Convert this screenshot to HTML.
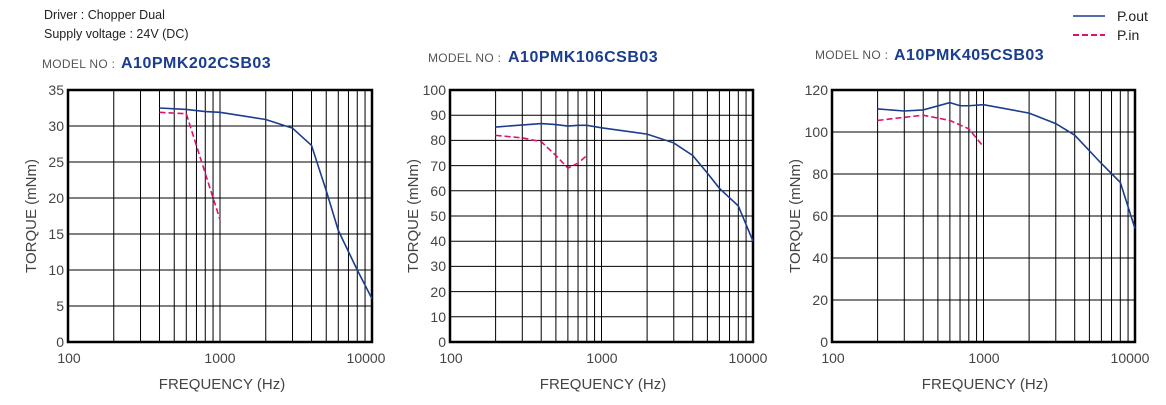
<!DOCTYPE html>
<html><head><meta charset="utf-8"><style>
html,body{margin:0;padding:0;background:#fff;width:1166px;height:405px;overflow:hidden}
svg{position:absolute;left:0;top:0}
text{font-family:"Liberation Sans",sans-serif}
.t{fill:#222;font-size:12.5px}
.mn{fill:#555;font-size:12px;letter-spacing:0.3px}
.md{fill:#1a3d8f;font-size:16px;font-weight:bold;letter-spacing:0.5px}
.tk{fill:#444;font-size:14px}
.ax{fill:#444;font-size:15px}
</style></head><body>
<svg id="s" width="1166" height="405" xmlns="http://www.w3.org/2000/svg">
<text class="t" x="44" y="19">Driver : Chopper Dual</text>
<text class="t" x="44" y="38">Supply voltage : 24V (DC)</text>
<text class="mn" x="42" y="68">MODEL NO :</text><text class="md" x="121" y="68">A10PMK202CSB03</text>
<text class="mn" x="428" y="62">MODEL NO :</text><text class="md" x="508" y="62">A10PMK106CSB03</text>
<text class="mn" x="815" y="59">MODEL NO :</text><text class="md" x="894" y="60">A10PMK405CSB03</text>
<line x1="1073" y1="16" x2="1105" y2="16" stroke="#1a3d8f" stroke-width="1.5"/>
<line x1="1073" y1="35" x2="1105" y2="35" stroke="#e0106e" stroke-width="2" stroke-dasharray="6,3"/>
<text x="1117" y="21" style="font-size:14px;fill:#222">P.out</text>
<text x="1117" y="40" style="font-size:14px;fill:#222">P.in</text>
<g class="tk" text-anchor="middle">
<text x="69" y="363">100</text><text x="220" y="363">1000</text><text x="366" y="363">10000</text>
<text x="451" y="363">100</text><text x="602" y="363">1000</text><text x="748" y="363">10000</text>
<text x="833" y="363">100</text><text x="984" y="363">1000</text><text x="1130" y="363">10000</text>
</g>
<g class="ax" text-anchor="middle">
<text x="222" y="389">FREQUENCY (Hz)</text>
<text x="603" y="389">FREQUENCY (Hz)</text>
<text x="985" y="389">FREQUENCY (Hz)</text>
<text transform="translate(36,216) rotate(-90)">TORQUE (mNm)</text>
<text transform="translate(418,216) rotate(-90)">TORQUE (mNm)</text>
<text transform="translate(800,216) rotate(-90)">TORQUE (mNm)</text>
</g>
<g class="tk" text-anchor="end" id="yl">
<text x="64" y="95">35</text><text x="64" y="131">30</text><text x="64" y="167">25</text><text x="64" y="203">20</text><text x="64" y="239">15</text><text x="64" y="275">10</text><text x="64" y="311">5</text><text x="64" y="347">0</text>
<text x="446" y="95">100</text><text x="446" y="120">90</text><text x="446" y="145">80</text><text x="446" y="171">70</text><text x="446" y="196">60</text><text x="446" y="221">50</text><text x="446" y="246">40</text><text x="446" y="271">30</text><text x="446" y="297">20</text><text x="446" y="322">10</text><text x="446" y="347">0</text>
<text x="828" y="95">120</text><text x="828" y="137">100</text><text x="828" y="179">80</text><text x="828" y="221">60</text><text x="828" y="263">40</text><text x="828" y="305">20</text><text x="828" y="347">0</text>
</g>
</svg>
<script>
var s=document.getElementById('s'),NS='http://www.w3.org/2000/svg';
function el(n,a){var e=document.createElementNS(NS,n);for(var k in a)e.setAttribute(k,a[k]);s.appendChild(e);return e;}
var T=90,B=342;
var P=[
{L:68,R:372,max:35,step:5,
 b:[[400,32.5],[600,32.3],[800,32],[1000,31.9],[2000,30.9],[3000,29.7],[4000,27.3],[5000,21],[6000,15.5],[8000,10],[10000,6]],
 p:[[400,31.9],[600,31.7],[1000,17]]},
{L:450,R:753,max:100,step:10,
 b:[[200,85.3],[400,86.7],[500,86.3],[600,85.7],[700,86],[800,86],[1000,85],[2000,82.5],[3000,79],[4000,74],[5000,67],[6000,61],[8000,54],[10000,40]],
 p:[[200,82],[300,81],[400,79.5],[500,74],[600,69],[700,71],[800,74]]},
{L:832,R:1135,max:120,step:20,
 b:[[200,111],[300,110],[400,110.5],[600,114],[700,112.5],[800,112.5],[1000,113],[2000,109],[3000,104],[4000,98.5],[6000,85],[8000,76],[10000,54]],
 p:[[200,105.5],[300,107],[400,108],[600,105.5],[800,101.5],[1000,93]]}];
P.forEach(function(c){
 var W=(c.R-c.L)/2;
 function X(f){return c.L+Math.log10(f/100)*W;}
 function Y(v){return B-(v/c.max)*(B-T);}
 for(var d=100;d<=1000;d*=10)for(var m=2;m<=9;m++)el('line',{x1:X(d*m),x2:X(d*m),y1:T,y2:B,stroke:'#000','stroke-width':1});
 el('line',{x1:X(1000),x2:X(1000),y1:T,y2:B,stroke:'#000','stroke-width':1});
 for(var v=c.step;v<c.max;v+=c.step)el('line',{x1:c.L,x2:c.R,y1:Y(v),y2:Y(v),stroke:'#000','stroke-width':1});
 el('rect',{x:c.L,y:T,width:c.R-c.L,height:B-T,fill:'none',stroke:'#000','stroke-width':2.5});
 el('polyline',{points:c.b.map(function(q){return X(q[0])+','+Y(q[1])}).join(' '),fill:'none',stroke:'#1a3d8f','stroke-width':1.6});
 el('polyline',{points:c.p.map(function(q){return X(q[0])+','+Y(q[1])}).join(' '),fill:'none',stroke:'#e0106e','stroke-width':1.6,'stroke-dasharray':'6,3'});
});
</script>
</body></html>
